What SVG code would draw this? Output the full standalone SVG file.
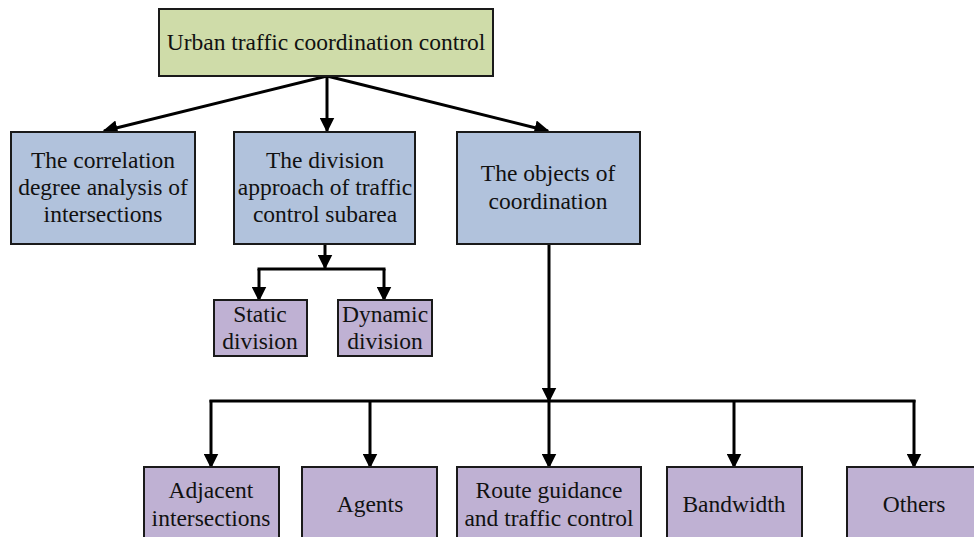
<svg xmlns="http://www.w3.org/2000/svg" width="974" height="537" viewBox="0 0 974 537">
<defs>
<style>
.box{stroke:#1a1a1a;stroke-width:2}
.g{fill:#cfdca9}
.b{fill:#b1c2dc}
.p{fill:#bfb1d3}
text{font-family:"Liberation Serif","Times New Roman",serif;font-size:23.5px;fill:#111;text-anchor:middle}
.c line,.c path{stroke:#000;stroke-width:3;fill:none}
</style>
<marker id="ah" viewBox="0 0 10 10" refX="9" refY="5" markerWidth="5" markerHeight="5" orient="auto" markerUnits="strokeWidth">
<path d="M0,0 L10,5 L0,10 z" fill="#000"/>
</marker>
</defs>
<rect width="974" height="537" fill="#fff"/>
<g class="c" id="connectors">
<line x1="327" y1="76" x2="104" y2="131" marker-end="url(#ah)"/>
<line x1="327" y1="76" x2="327" y2="131" marker-end="url(#ah)"/>
<line x1="327" y1="76" x2="548" y2="131" marker-end="url(#ah)"/>
<line x1="325" y1="244" x2="325" y2="268" marker-end="url(#ah)"/>
<line x1="257.5" y1="269" x2="385.5" y2="269"/>
<line x1="259" y1="269" x2="259" y2="300" marker-end="url(#ah)"/>
<line x1="384" y1="269" x2="384" y2="300" marker-end="url(#ah)"/>
<line x1="549" y1="244" x2="549" y2="401" marker-end="url(#ah)"/>
<line x1="209.5" y1="401" x2="915.5" y2="401"/>
<line x1="211" y1="400" x2="211" y2="467" marker-end="url(#ah)"/>
<line x1="370" y1="400" x2="370" y2="467" marker-end="url(#ah)"/>
<line x1="549" y1="400" x2="549" y2="467" marker-end="url(#ah)"/>
<line x1="734" y1="400" x2="734" y2="467" marker-end="url(#ah)"/>
<line x1="914" y1="400" x2="914" y2="467" marker-end="url(#ah)"/>
</g>
<g id="root"><rect class="box g" x="159" y="9" width="334" height="67"/><text x="326" y="50">Urban traffic coordination control</text></g>
<g id="correlation"><rect class="box b" x="11" y="132" width="184" height="112"/><text x="103" y="168">The correlation</text><text x="103" y="195">degree analysis of</text><text x="103" y="222">intersections</text></g>
<g id="division"><rect class="box b" x="234" y="132" width="181" height="112"/><text x="325" y="168">The division</text><text x="325" y="195">approach of traffic</text><text x="325" y="222">control subarea</text></g>
<g id="objects"><rect class="box b" x="457" y="132" width="183" height="112"/><text x="548" y="181">The objects of</text><text x="548" y="209">coordination</text></g>
<g id="static"><rect class="box p" x="214" y="300" width="93" height="56"/><text x="260" y="322">Static</text><text x="260" y="349">division</text></g>
<g id="dynamic"><rect class="box p" x="338" y="300" width="94" height="56"/><text x="385" y="322">Dynamic</text><text x="385" y="349">division</text></g>
<g id="adjacent"><rect class="box p" x="144" y="467" width="135" height="80"/><text x="211" y="498">Adjacent</text><text x="211" y="526">intersections</text></g>
<g id="agents"><rect class="box p" x="302" y="467" width="135" height="80"/><text x="370" y="512">Agents</text></g>
<g id="route"><rect class="box p" x="457" y="467" width="184" height="80"/><text x="549" y="498">Route guidance</text><text x="549" y="526">and traffic control</text></g>
<g id="bandwidth"><rect class="box p" x="667" y="467" width="135" height="80"/><text x="734" y="512">Bandwidth</text></g>
<g id="others"><rect class="box p" x="847" y="467" width="135" height="80"/><text x="914" y="512">Others</text></g>
</svg>
